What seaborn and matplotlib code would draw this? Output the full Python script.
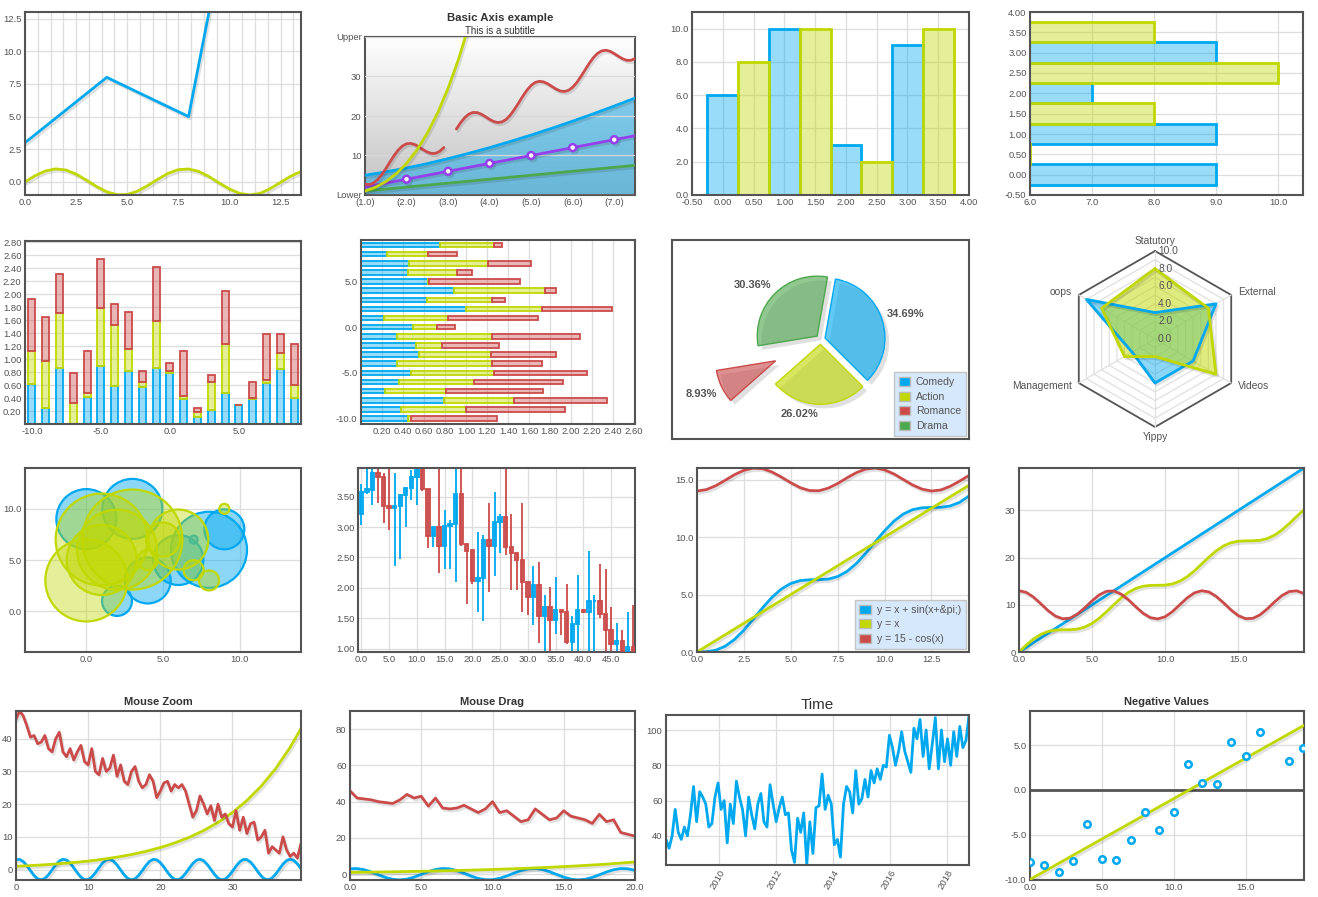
import numpy as np
import pandas as pd
import seaborn as sns
import matplotlib.pyplot as plt
import matplotlib.patheffects as pe
import matplotlib.dates as mdates
from matplotlib.patches import Patch
from matplotlib.colors import LinearSegmentedColormap, to_rgba
from matplotlib.ticker import FormatStrFormatter, MultipleLocator

## data -------------------------------------------------------------------
# panel 1
p1_line_x = [0, 4, 8, 9]
p1_line_y = [3, 8, 5, 13]
p1_sin_y = [0.0, 0.48, 0.84, 1.0, 0.91, 0.6, 0.14, -0.35, -0.76, -0.98, -0.96, -0.71, -0.28, 0.21,
            0.66, 0.94, 0.99, 0.8, 0.41, -0.08, -0.54, -0.88, -1.0, -0.87, -0.51, -0.03, 0.44, 0.8]

# panel 2 (basic axis)
p2_blue_y = [5.0, 5.84, 6.83, 7.95, 9.2, 10.55, 12.0, 13.55, 15.18, 16.9, 18.7, 20.57, 22.52, 24.54]
p2_cube_x = [1, 1.25, 1.5, 1.75, 2, 2.25, 2.5, 2.75, 3, 3.25, 3.5]
p2_cube_y = [1, 1.95, 3.38, 5.36, 8, 11.39, 15.63, 20.8, 27, 34.33, 42.88]
p2_red_a = [2.73, 2.64, 3.01, 3.85, 5.11, 6.66, 8.35, 9.98, 11.38, 12.4, 12.97, 13.06, 12.76, 12.17,
            11.48, 10.87, 10.52, 10.56, 11.06, 12.03]
p2_red_b = [16.7, 18.28, 19.58, 20.47, 20.9, 20.86, 20.46, 19.82, 19.14, 18.59, 18.34, 18.51, 19.15,
            20.25, 21.7, 23.35, 25.03, 26.55, 27.74, 28.5, 28.78, 28.63, 28.14, 27.47, 26.81, 26.33,
            26.19, 26.5, 27.28, 28.49, 30.02, 31.7, 33.35, 34.79, 35.86, 36.49, 36.64, 36.38, 35.81,
            35.12, 34.49, 34.1, 34.09, 34.54]
p2_purple_x = [1, 2, 3, 4, 5, 6, 7, 8]
p2_purple_y = [2, 4, 6, 8, 10, 12, 14, 16]
p2_green_x = [1, 7.5]
p2_green_y = [1, 7.5]
p2_xticks = ['(1.0)', '(2.0)', '(3.0)', '(4.0)', '(5.0)', '(6.0)', '(7.0)']
p2_yticks = ['Lower', '10', '20', '30', 'Upper']

# panel 3 / 4 (bars)
p3_blue_x, p3_blue_v = [0, 1, 2, 3], [6, 10, 3, 9]
p3_yg_x, p3_yg_v = [0.5, 1.5, 2.5, 3.5], [8, 10, 2, 10]
p4_blue_y, p4_blue_v = [0, 1, 2, 3], [9, 9, 7, 9]
p4_yg_y, p4_yg_v = [0.5, 1.5, 2.5, 3.5], [6, 8, 10, 8]

# panel 5 (stacked bars)
p5_x = list(range(-10, 10))
p5_blue = [0.61, 0.24, 0.86, 0.0, 0.42, 0.89, 0.59, 0.81, 0.57, 0.86, 0.79, 0.38, 0.11, 0.22, 0.48,
           0.29, 0.38, 0.63, 0.85, 0.40]
p5_yg = [0.51, 0.73, 0.85, 0.32, 0.06, 0.89, 0.94, 0.35, 0.08, 0.73, 0.03, 0.05, 0.07, 0.43, 0.75,
         0.0, 0.02, 0.05, 0.24, 0.20]
p5_red = [0.80, 0.68, 0.60, 0.47, 0.64, 0.77, 0.32, 0.56, 0.16, 0.83, 0.12, 0.70, 0.07, 0.10, 0.82,
          0.01, 0.25, 0.71, 0.29, 0.63]

# panel 6 (stacked horizontal bars), y = 9 .. -10
p6_y = list(range(9, -11, -1))
p6_blue = [0.75, 0.25, 0.46, 0.45, 0.64, 0.89, 0.63, 1.0, 0.22, 0.5, 0.34, 0.52, 0.555, 0.345, 0.48,
           0.36, 0.23, 0.79, 0.38, 0.45]
p6_yg = [0.52, 0.39, 0.75, 0.46, 0.005, 0.86, 0.615, 0.72, 0.61, 0.22, 0.91, 0.25, 0.685, 0.9, 0.785,
         0.72, 0.58, 0.67, 0.62, 0.03]
p6_red = [0.075, 0.27, 0.41, 0.145, 0.865, 0.11, 0.125, 0.67, 0.855, 0.18, 0.835, 0.54, 0.62, 0.475,
          0.885, 0.84, 0.92, 0.88, 0.94, 0.82]

# panel 7 (pie)
pie_labels = ['Comedy', 'Action', 'Romance', 'Drama']
pie_values = [34.69, 26.02, 8.93, 30.36]
pie_explode = [0.08, 0.08, 0.83, 0.08]

# panel 8 (radar)
radar_axes = ['Statutory', 'External', 'Videos', 'Yippy', 'Management', 'oops']
radar_actual = [3, 8, 5, 5, 3, 9]
radar_target = [8, 7, 8, 2, 4, 7]

# panel 9 (bubbles) radius in pixels
p9_blue_x = [0, 3, 8, 9, 2, 4, 6, 7]
p9_blue_y = [9, 10, 6, 8, 1, 3, 5, 7]
p9_blue_r = [30, 30, 38, 20, 15, 23, 25, 4]
p9_yg_x = [0, 3, 1, 1, 2, 6, 5, 4, 7, 8, 9]
p9_yg_y = [3, 7, 5, 7, 6, 7, 7, 5, 4, 3, 10]
p9_yg_r = [41, 50, 35, 46, 40, 30, 17, 10, 10, 10, 5]

# panel 10 (candles)
p10_open = [3.21, 3.58, 3.61, 3.88, 3.82, 3.35, 3.31, 3.35, 3.52, 3.64, 3.82, 3.94, 3.62, 2.85, 3.00,
            2.69, 3.02, 3.05, 3.54, 2.72, 2.62, 2.12, 2.16, 2.78, 2.68, 3.08, 3.17, 2.67, 2.57, 2.46,
            2.10, 1.85, 2.04, 1.54, 1.68, 1.48, 1.63, 1.60, 1.11, 1.41, 1.63, 1.61, 1.78, 1.79, 1.57,
            1.30, 1.08, 1.13, 0.93, 1.03]
p10_close = [3.58, 3.62, 3.88, 3.82, 3.35, 3.31, 3.34, 3.52, 3.64, 3.82, 3.94, 3.62, 2.85, 3.00, 2.69,
             3.02, 3.05, 3.54, 2.72, 2.61, 2.12, 2.16, 2.78, 2.68, 3.08, 3.17, 2.67, 2.57, 2.45, 2.10,
             1.85, 2.04, 1.54, 1.68, 1.48, 1.63, 1.60, 1.11, 1.41, 1.63, 1.61, 1.79, 1.79, 1.57, 1.30,
             1.08, 1.13, 0.93, 1.03, 0.93]
p10_high = [3.71, 4.05, 3.95, 4.05, 3.89, 4.05, 3.89, 3.55, 3.65, 3.94, 4.05, 4.05, 3.62, 3.00, 4.05,
            3.28, 3.12, 4.05, 4.05, 2.72, 2.62, 2.91, 2.87, 3.39, 3.57, 3.22, 4.05, 3.22, 2.57, 3.39,
            2.10, 2.36, 2.43, 1.89, 2.02, 2.18, 1.63, 2.07, 1.54, 2.21, 1.63, 2.60, 1.89, 2.39, 2.31,
            1.68, 1.43, 1.31, 1.60, 1.72]
p10_low = [3.03, 3.54, 3.36, 3.39, 3.06, 2.95, 2.36, 2.48, 3.00, 3.45, 3.36, 3.60, 2.65, 2.67, 2.25,
           2.31, 2.31, 2.10, 2.68, 1.74, 2.07, 1.60, 1.45, 1.94, 2.20, 2.58, 2.54, 1.96, 1.97, 1.61,
           1.56, 1.39, 1.10, 0.90, 0.90, 1.25, 1.22, 1.08, 0.90, 0.90, 1.59, 0.96, 0.90, 1.50, 0.90,
           0.90, 0.90, 0.90, 0.90, 0.90]

# panel 11 (legend example)
p11_blue = [0.0, 0.02, 0.16, 0.5, 1.09, 1.9, 2.86, 3.85, 4.76, 5.48, 5.96, 6.21, 6.28, 6.29, 6.34,
            6.56, 7.01, 7.7, 8.59, 9.58, 10.54, 11.38, 12.0, 12.38, 12.54, 12.57, 12.58, 12.7, 13.01, 13.57]
p11_green_x, p11_green_y = [0, 14.5], [0, 14.5]
p11_red = [14.0, 14.12, 14.46, 14.93, 15.42, 15.8, 15.99, 15.94, 15.65, 15.21, 14.72, 14.29, 14.04,
           14.02, 14.25, 14.65, 15.15, 15.6, 15.91, 16.0, 15.84, 15.48, 15.0, 14.52, 14.16, 14.0,
           14.09, 14.41, 14.86, 15.35]
p11_labels = ['y = x + sin(x+&pi;)', 'y = x', 'y = 15 - cos(x)']

# panel 12
p12_blue_x, p12_blue_y = [0, 19.5], [0, 39]
p12_green = [0, 1.47, 2.76, 3.75, 4.36, 4.65, 4.71, 4.72, 4.86, 5.28, 6.06, 7.19, 8.58, 10.07, 11.49,
             12.66, 13.48, 13.95, 14.12, 14.14, 14.18, 14.43, 15.0, 15.94, 17.19, 18.65, 20.13, 21.46,
             22.49, 23.15, 23.48, 23.56, 23.57, 23.68, 24.06, 24.79, 25.88, 27.24, 28.73, 30.16]
p12_red = [13.0, 12.63, 11.62, 10.21, 8.75, 7.6, 7.03, 7.19, 8.04, 9.37, 10.85, 12.13, 12.88, 12.93,
           12.26, 11.04, 9.56, 8.19, 7.27, 7.01, 7.48, 8.57, 10.01, 11.45, 12.53, 12.99, 12.72, 11.78,
           10.41, 8.94, 7.72, 7.07, 7.13, 7.89, 9.18, 10.66, 11.98, 12.82, 12.97, 12.39]

# panels 13 / 14 (mouse zoom / drag)
wave = [3.0, 3.11, 2.46, 1.21, -0.34, -1.8, -2.83, -3.16, -2.72, -1.6, -0.11, 1.42, 2.6, 3.15, 2.92,
        1.98, 0.55, -1.01, -2.32, -3.06, -3.06, -2.3, -0.99, 0.57, 2.0, 2.93, 3.14, 2.59, 1.4, -0.13,
        -1.63, -2.73, -3.16, -2.82, -1.79, -0.32, 1.23, 2.48, 3.12, 2.99, 2.13, 0.76, -0.81, -2.18,
        -3.01, -3.1, -2.44, -1.18, 0.37, 1.82, 2.84, 3.16, 2.7, 1.59, 0.08, -1.45, -2.62, -3.15, -2.9,
        -1.95, -0.52, 1.04, 2.34, 3.07, 3.05, 2.29, 0.96, -0.6, -2.02, -2.94, -3.14, -2.57, -1.37,
        0.16, 1.65, 2.74, 3.16, 2.8, 1.76, 0.28]
grow_x = [0, 2, 4, 6, 8, 10, 12, 14, 16, 18, 20, 22, 24, 26, 28, 30, 32, 34, 36, 38, 39.5]
grow_y = [1.0, 1.21, 1.46, 1.77, 2.14, 2.59, 3.14, 3.8, 4.59, 5.56, 6.73, 8.14, 9.85, 11.92, 14.42,
          17.45, 21.11, 25.55, 30.91, 37.4, 43.15]
zoom_red = [46.0, 48.5, 47.0, 44.0, 40.5, 41.0, 38.5, 39.0, 41.0, 37.0,
            36.0, 40.0, 42.0, 36.0, 34.5, 37.0, 33.5, 36.0, 38.0, 33.0,
            32.0, 37.0, 30.0, 29.0, 34.0, 30.0, 31.0, 35.0, 28.5, 32.0,
            27.0, 26.0, 30.0, 31.5, 27.0, 25.0, 26.0, 29.0, 27.0, 22.0,
            24.0, 26.5, 27.0, 24.0, 26.0, 25.0, 26.0, 24.0, 20.0, 16.0,
            18.0, 22.5, 20.0, 17.0, 19.5, 15.0, 20.0, 16.0, 17.0, 14.0,
            13.0, 18.0, 12.0, 16.0, 11.0, 14.0, 14.5, 9.0, 10.0, 12.0,
            5.0, 7.0, 6.0, 5.0, 10.0, 6.0, 4.0, 5.0, 3.5, 8.0]
drag_red = [46, 42, 41.5, 41, 40, 39.5, 39, 41, 44, 42, 43, 37.5, 42, 36.5, 36, 36.5, 38, 36, 34, 36,
            40, 34, 35, 32, 29, 30, 36, 33, 30, 31, 35, 32, 31, 30, 28, 33, 29, 30, 23, 22, 21]

# panel 15 (time)
time_vals = [38, 33, 40, 55, 42, 38, 45, 40, 52, 68, 48, 65, 62, 58, 45, 47, 62, 70, 55, 60,
             36, 58, 47, 71, 62, 55, 40, 62, 52, 44, 58, 64, 48, 45, 69, 58, 48, 56, 62, 52,
             53, 32, 25, 50, 42, 53, 24, 48, 30, 56, 57, 75, 55, 63, 58, 35, 38, 28, 58, 68,
             65, 53, 77, 58, 61, 72, 62, 77, 70, 78, 72, 80, 79, 97, 90, 80, 88, 99, 88, 82,
             76, 101, 95, 106, 85, 100, 78, 92, 107, 78, 100, 82, 95, 80, 99, 85, 102, 90, 94, 108]
time_start = '2008-02-20'

# panel 16 (negative values)
neg_x = [0, 1, 2, 3, 4, 5, 6, 7, 8, 9, 10, 11, 12, 13, 14, 15, 16, 18, 19]
neg_y = [-8.0, -8.4, -9.2, -7.9, -3.8, -7.7, -7.8, -5.6, -2.5, -4.5, -2.5, 2.9, 0.8, 0.7, 5.3, 3.8,
         6.5, 3.2, 4.7]
fit_x, fit_y = [0, 19.07], [-10.0, 7.2]

## style ------------------------------------------------------------------
sns.set_theme(style="white")
plt.rcParams['font.family'] = ['Liberation Sans', 'DejaVu Sans']

BLUE, YG, RED, GREEN, PURPLE = '#00A8F0', '#C0D800', '#CB4B4B', '#4DA74D', '#9440ED'
EDGE, GRID, TICK = '#545454', '#dddddd', '#545454'
FS = 6.8
W, H = 1318, 897
SHADOW = [pe.SimpleLineShadow(offset=(1.2, -1.6), shadow_color='k', alpha=0.13), pe.Normal()]

fig = plt.figure(figsize=(W / 100, H / 100), dpi=100)


def box(l, t, r, b):
    return fig.add_axes([l / W, 1 - b / H, (r - l) / W, (b - t) / H])


def frame(ax, xg=True, yg=True, xf=None, yf=None):
    for s in ax.spines.values():
        s.set_color(EDGE)
        s.set_linewidth(1.5)
    ax.tick_params(length=0, pad=2.5, labelsize=FS, labelcolor=TICK)
    ax.grid(False)
    if xg:
        ax.xaxis.grid(True, color=GRID, lw=0.9)
    if yg:
        ax.yaxis.grid(True, color=GRID, lw=0.9)
    ax.set_axisbelow(True)
    ax.set_xlabel('')
    ax.set_ylabel('')
    if xf:
        ax.xaxis.set_major_formatter(FormatStrFormatter(xf))
    if yf:
        ax.yaxis.set_major_formatter(FormatStrFormatter(yf))


def light(c, a=0.4):
    return to_rgba(c, a)


def title(ax, text, size=8, weight='bold'):
    ax.set_title(text, fontsize=size, fontweight=weight, color='#333333', pad=4)


def legend(ax, cols, labels):
    ax.legend(handles=[Patch(facecolor=c, edgecolor='#bbbbbb', lw=1) for c in cols], labels=labels,
              loc='lower right', fontsize=7.6, frameon=True, fancybox=False, facecolor='#d6e8fb',
              edgecolor='#c4c4c4', framealpha=1, handlelength=1.1, handleheight=0.95,
              handletextpad=0.55, labelspacing=0.42, borderpad=0.45, borderaxespad=0.3,
              labelcolor='#545454')


## 1: basic lines ---------------------------------------------------------
ax = box(25, 12, 301, 195)
sns.lineplot(x=np.arange(0, 14, 0.5), y=p1_sin_y, ax=ax, color=YG, lw=2, path_effects=SHADOW)
sns.lineplot(x=p1_line_x, y=p1_line_y, ax=ax, color=BLUE, lw=2, path_effects=SHADOW)
ax.set_xlim(0, 13.5)
ax.set_ylim(-1.0, 13.0)
ax.set_xticks(np.arange(0, 13, 2.5))
ax.set_yticks(np.arange(0, 13, 2.5))
frame(ax, xf='%.1f', yf='%.1f')
ax.xaxis.set_minor_locator(MultipleLocator(0.625))
ax.xaxis.grid(True, which='minor', color=GRID, lw=0.9)

## 2: basic axis ----------------------------------------------------------
ax = box(365, 37, 635, 195)
grad = LinearSegmentedColormap.from_list('g', ['#ffffff', '#c2c2c2'])
ax.imshow(np.linspace(0, 1, 256)[:, None], cmap=grad, extent=[1, 7.5, 0, 40], aspect='auto', zorder=0)
bx = np.arange(1, 7.6, 0.5)
ax.fill_between(bx, p2_blue_y, 0, color=BLUE, alpha=0.45, lw=0, zorder=2)
sns.lineplot(x=bx, y=p2_blue_y, ax=ax, color=BLUE, lw=2, path_effects=SHADOW, zorder=3)
sns.lineplot(x=p2_green_x, y=p2_green_y, ax=ax, color=GREEN, lw=2, path_effects=SHADOW, zorder=3)
ax.plot(p2_purple_x, p2_purple_y, color=PURPLE, lw=2, marker='o', ms=5, mfc='white', mec=PURPLE,
        mew=1.8, markevery=[1, 2, 3, 4, 5, 6], path_effects=SHADOW, zorder=4)
ax.plot(np.arange(1.0, 2.95, 0.1), p2_red_a, color=RED, lw=2, path_effects=SHADOW, zorder=4)
ax.plot(np.arange(3.2, 7.55, 0.1), p2_red_b, color=RED, lw=2, path_effects=SHADOW, zorder=4)
ax.plot(p2_cube_x, p2_cube_y, color=YG, lw=2, path_effects=SHADOW, zorder=4)
ax.set_xlim(1, 7.5)
ax.set_ylim(0, 40)
ax.set_xticks(range(1, 8), p2_xticks)
ax.set_yticks(range(0, 41, 10), p2_yticks)
frame(ax, xg=False)
ax.yaxis.grid(True, color='#d8d8d8', lw=0.9)
ax.set_axisbelow(False)
for gl in ax.get_ygridlines():
    gl.set_zorder(1)
fig.text(500 / W, 1 - 18 / H, 'Basic Axis example', ha='center', va='center', fontsize=8.2,
         fontweight='bold', color='#333333')
fig.text(500 / W, 1 - 31 / H, 'This is a subtitle', ha='center', va='center', fontsize=7,
         color='#333333')

## 3: vertical bars -------------------------------------------------------
ax = box(692, 12, 969, 195)
ax.bar(p3_blue_x, p3_blue_v, width=0.5, color=light(BLUE), edgecolor=BLUE, lw=2)
ax.bar(p3_yg_x, p3_yg_v, width=0.5, color=light(YG), edgecolor=YG, lw=2)
ax.set_xlim(-0.5, 4.0)
ax.set_ylim(0, 11)
ax.set_xticks(np.arange(-0.5, 4.01, 0.5))
ax.set_yticks(range(0, 11, 2))
frame(ax, xf='%.2f', yf='%.1f')

## 4: horizontal bars -----------------------------------------------------
ax = box(1030, 12, 1303, 195)
ax.barh(p4_blue_y, p4_blue_v, height=0.5, color=light(BLUE), edgecolor=BLUE, lw=2)
ax.barh(p4_yg_y, p4_yg_v, height=0.5, color=light(YG), edgecolor=YG, lw=2)
ax.set_xlim(6.0, 10.4)
ax.set_ylim(-0.5, 4.0)
ax.set_xticks(range(6, 11))
ax.set_yticks(np.arange(-0.5, 4.01, 0.5))
frame(ax, xf='%.1f', yf='%.2f')

## 5: stacked bars --------------------------------------------------------
ax = box(25, 241, 301, 424)
b = np.zeros(len(p5_x))
for vals, c in [(p5_blue, BLUE), (p5_yg, YG), (p5_red, RED)]:
    ax.bar(p5_x, vals, width=0.5, bottom=b, color=light(c), edgecolor=c, lw=1.3)
    b = b + np.array(vals)
ax.set_xlim(-10.5, 9.5)
ax.set_ylim(0, 2.82)
ax.set_xticks([-10, -5, 0, 5])
ax.set_yticks(np.arange(0.2, 2.81, 0.2))
frame(ax, xg=False, xf='%.1f', yf='%.2f')

## 6: stacked horizontal bars ---------------------------------------------
ax = box(361, 240, 635, 424)
b = np.zeros(len(p6_y))
for vals, c in [(p6_blue, BLUE), (p6_yg, YG), (p6_red, RED)]:
    ax.barh(p6_y, vals, height=0.5, left=b, color=light(c), edgecolor=c, lw=1.3)
    b = b + np.array(vals)
ax.set_xlim(0, 2.61)
ax.set_ylim(-10.6, 9.55)
ax.set_xticks(np.arange(0.2, 2.61, 0.2))
ax.set_yticks([-10, -5, 0, 5])
frame(ax, yg=False, xf='%.2f', yf='%.1f')

## 7: pie -----------------------------------------------------------------
ax = box(672, 240, 969, 439)
pie_cols = [BLUE, YG, RED, GREEN]
ax.pie(pie_values, explode=pie_explode, startangle=80, counterclock=False, center=(0.07, -0.07),
       colors=['#000000'] * 4, wedgeprops=dict(alpha=0.12, lw=0))
wedges, _, pcts = ax.pie(pie_values, explode=pie_explode, startangle=80, counterclock=False,
                         colors=[light(c, 0.62) for c in pie_cols], autopct='%.2f%%',
                         wedgeprops=dict(lw=1),
                         textprops=dict(fontsize=8, fontweight='bold', color='#545454'))
for w, t, ex, c in zip(wedges, pcts, pie_explode, pie_cols):
    w.set_edgecolor(c)
    mid = np.deg2rad((w.theta1 + w.theta2) / 2)
    d = 1.08 + ex
    t.set_position((d * np.cos(mid), d * np.sin(mid)))
    t.set_ha('left' if np.cos(mid) > 0 else 'right')
    t.set_va('bottom' if np.sin(mid) > 0 else 'top')
ax.set_aspect('auto')
ax.set_xlim(-2.48, 2.48)
ax.set_ylim(-1.66, 1.66)
ax.set_frame_on(True)
frame(ax, xg=False, yg=False)
ax.set_xticks([])
ax.set_yticks([])
legend(ax, pie_cols, pie_labels)

## 8: radar ---------------------------------------------------------------
ax = box(1155 - 125, 339 - 105, 1155 + 125, 339 + 105)
ang = np.deg2rad(np.arange(0, 361, 60))
for k in range(1, 11):
    ax.plot(k * np.sin(ang), k * np.cos(ang), color=EDGE if k == 10 else '#e0e0e0',
            lw=1.3 if k == 10 else 0.9, zorder=1)
for a in ang[:-1]:
    ax.plot([0, 10 * np.sin(a)], [0, 10 * np.cos(a)], color='#e0e0e0', lw=0.9, zorder=1)
for vals, c, al in [(radar_actual, BLUE, 0.45), (radar_target, YG, 0.5)]:
    r = np.array(vals + vals[:1])
    ax.fill(r * np.sin(ang), r * np.cos(ang), color=c, alpha=al, lw=0, zorder=2)
    ax.plot(r * np.sin(ang), r * np.cos(ang), color=c, lw=2, path_effects=SHADOW, zorder=3)
for k in range(0, 11, 2):
    ax.text(0.35, k, f'{k:.1f}', fontsize=FS + 0.6, color='#545454', va='center', ha='left', zorder=4)
for name, a in zip(radar_axes, ang[:-1]):
    sx, cy = np.sin(a), np.cos(a)
    ha = 'left' if sx > 0.1 else ('right' if sx < -0.1 else 'center')
    va = 'bottom' if cy > 0.9 else ('top' if cy < -0.9 else 'center')
    ax.text(10.9 * sx, 10.6 * cy, name, ha=ha, va=va, fontsize=FS + 0.6, color='#545454')
ax.set_xlim(-125 / 8.8, 125 / 8.8)
ax.set_ylim(-105 / 8.8, 105 / 8.8)
ax.axis('off')

## 9: bubbles -------------------------------------------------------------
ax = box(25, 468, 301, 652)
ax.scatter(p9_blue_x, p9_blue_y, s=(1.44 * np.array(p9_blue_r)) ** 2, facecolor=light(BLUE, 0.45),
           edgecolor=BLUE, lw=1.6, zorder=2)
ax.scatter(p9_yg_x, p9_yg_y, s=(1.44 * np.array(p9_yg_r)) ** 2, facecolor=light(YG, 0.4),
           edgecolor=YG, lw=1.6, zorder=3)
ax.set_xlim(-4, 14)
ax.set_ylim(-4, 14)
ax.set_xticks([0, 5, 10])
ax.set_yticks([0, 5, 10])
frame(ax, xf='%.1f', yf='%.1f')

## 10: candles ------------------------------------------------------------
ax = box(358, 468, 635, 652)
cx = np.arange(len(p10_open))
up = np.array(p10_close) >= np.array(p10_open)
ccol = np.where(up, BLUE, RED)
ax.vlines(cx, p10_low, p10_high, colors=ccol, lw=1.3, zorder=2)
ax.bar(cx, np.abs(np.array(p10_close) - np.array(p10_open)), width=0.6,
       bottom=np.minimum(p10_open, p10_close), color=[light(c, 0.45) for c in ccol],
       edgecolor=ccol, lw=1.3, zorder=3)
ax.set_xlim(-0.6, 49.3)
ax.set_ylim(0.946, 3.97)
ax.set_xticks(range(0, 46, 5))
ax.set_yticks(np.arange(1.0, 3.51, 0.5))
frame(ax, xf='%.1f', yf='%.2f')

## 11: legend example -----------------------------------------------------
ax = box(697, 468, 969, 652)
x11 = np.arange(0, 14.51, 0.5)
sns.lineplot(x=x11, y=p11_blue, ax=ax, color=BLUE, lw=2, path_effects=SHADOW)
sns.lineplot(x=p11_green_x, y=p11_green_y, ax=ax, color=YG, lw=2, path_effects=SHADOW)
sns.lineplot(x=x11, y=p11_red, ax=ax, color=RED, lw=2, path_effects=SHADOW)
ax.set_xlim(0, 14.5)
ax.set_ylim(0, 16)
ax.set_xticks(np.arange(0, 13, 2.5))
ax.set_yticks([0, 5, 10, 15])
frame(ax, xf='%.1f', yf='%.1f')
legend(ax, [BLUE, YG, RED], p11_labels)

## 12 ---------------------------------------------------------------------
ax = box(1019, 468, 1304, 652)
x12 = np.arange(0, 19.51, 0.5)
sns.lineplot(x=p12_blue_x, y=p12_blue_y, ax=ax, color=BLUE, lw=2, path_effects=SHADOW)
sns.lineplot(x=x12, y=p12_green, ax=ax, color=YG, lw=2, path_effects=SHADOW)
sns.lineplot(x=x12, y=p12_red, ax=ax, color=RED, lw=2, path_effects=SHADOW)
ax.set_xlim(0, 19.5)
ax.set_ylim(0, 39)
ax.set_xticks([0, 5, 10, 15])
ax.set_yticks([0, 10, 20, 30])
frame(ax, xf='%.1f', yf='%d')

## 13: mouse zoom ---------------------------------------------------------
ax = box(16, 711, 301, 880)
x13 = np.arange(0, 40, 0.5)
sns.lineplot(x=x13, y=wave, ax=ax, color=BLUE, lw=2, path_effects=SHADOW)
sns.lineplot(x=grow_x, y=grow_y, ax=ax, color=YG, lw=2, path_effects=SHADOW)
sns.lineplot(x=x13, y=zoom_red, ax=ax, color=RED, lw=2, path_effects=SHADOW)
ax.set_xlim(0, 39.5)
ax.set_ylim(-3.2, 48.5)
ax.set_xticks([0, 10, 20, 30])
ax.set_yticks([0, 10, 20, 30, 40])
frame(ax, xf='%d', yf='%d')
title(ax, 'Mouse Zoom')

## 14: mouse drag ---------------------------------------------------------
ax = box(350, 711, 635, 880)
x14 = np.arange(0, 20.01, 0.5)
sns.lineplot(x=x14, y=wave[:41], ax=ax, color=BLUE, lw=2, path_effects=SHADOW)
sns.lineplot(x=grow_x[:11], y=grow_y[:11], ax=ax, color=YG, lw=2, path_effects=SHADOW)
sns.lineplot(x=x14, y=drag_red, ax=ax, color=RED, lw=2, path_effects=SHADOW)
ax.set_xlim(0, 20)
ax.set_ylim(-3.2, 90)
ax.set_xticks([0, 5, 10, 15, 20])
ax.set_yticks([0, 20, 40, 60, 80])
frame(ax, xf='%.1f', yf='%d')
title(ax, 'Mouse Drag')

## 15: time ---------------------------------------------------------------
ax = box(666, 715, 969, 865)
dates = pd.date_range(time_start, periods=len(time_vals), freq='941h')
sns.lineplot(x=dates, y=time_vals, ax=ax, color=BLUE, lw=2)
ax.set_xlim(dates[0], dates[-1])
ax.set_ylim(min(time_vals) - 0.5, max(time_vals) + 0.5)
ax.set_yticks([40, 60, 80, 100])
ax.xaxis.set_major_locator(mdates.YearLocator(2))
ax.xaxis.set_major_formatter(mdates.DateFormatter('%Y'))
frame(ax, yf='%d')
plt.setp(ax.get_xticklabels(), rotation=60, ha='right', va='top', rotation_mode='anchor')
title(ax, 'Time', size=11, weight='normal')

## 16: negative values ----------------------------------------------------
ax = box(1030, 711, 1304, 880)
ax.axhline(0, color=EDGE, lw=2, zorder=2)
sns.lineplot(x=fit_x, y=fit_y, ax=ax, color=YG, lw=2, path_effects=SHADOW, zorder=3)
ax.scatter(neg_x, neg_y, s=22, facecolor='white', edgecolor=BLUE, lw=1.8, zorder=4)
ax.set_xlim(0, 19.07)
ax.set_ylim(-10.06, 8.8)
ax.set_xticks([0, 5, 10, 15])
ax.set_yticks([-10, -5, 0, 5])
frame(ax, xf='%.1f', yf='%.1f')
title(ax, 'Negative Values')

fig.savefig('out.png', dpi=100)
